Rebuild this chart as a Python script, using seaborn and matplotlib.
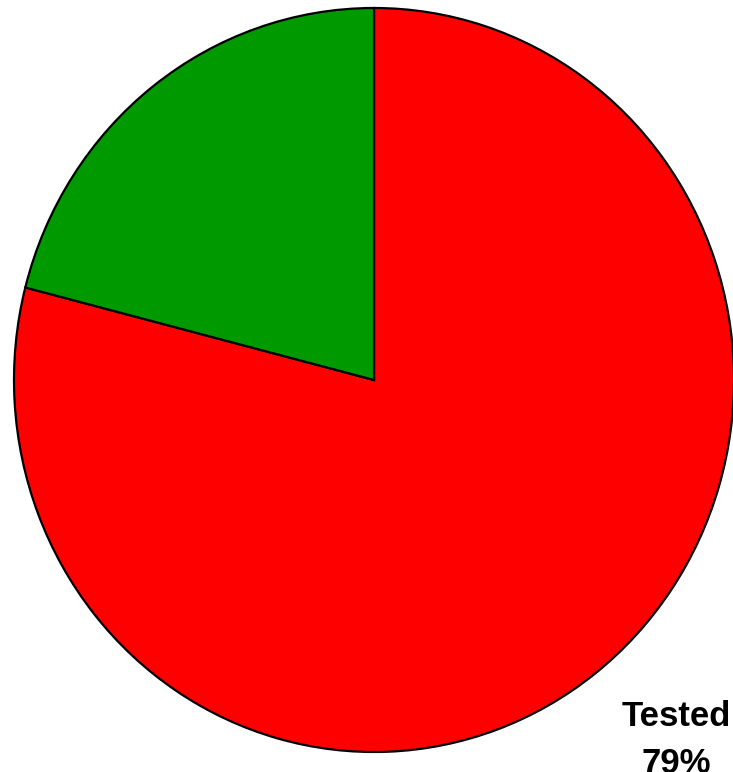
import matplotlib
matplotlib.use('Agg')
import matplotlib.pyplot as plt
import seaborn as sns

# Data
categories = ['Tested', 'Not Tested']
shares = [79, 21]
colors = ['#FF0000', '#009900']

sns.set_theme(style='white')
plt.rcParams['font.family'] = ['Liberation Sans', 'DejaVu Sans']

fig = plt.figure(figsize=(7.33, 7.72), dpi=100)
ax = fig.add_axes([0, 0, 1, 1])

ax.pie(shares, colors=colors, startangle=90, counterclock=False,
       wedgeprops={'edgecolor': 'black', 'linewidth': 1.6})

# pie is drawn slightly stretched vertically in the reference
ax.set_aspect('auto')
ax.set_xlim(-374 / 360, (733 - 374) / 360)
ax.set_ylim(-(772 - 380) / 372, 380 / 372)
ax.axis('off')

# only the red slice's label is visible
ax.text(0.84, -0.968, f'{categories[0]}\n{shares[0]}%', ha='center', va='center',
        fontsize=25, fontweight='bold', color='black', linespacing=1.55)

fig.savefig('out.png', dpi=100, facecolor='white')
